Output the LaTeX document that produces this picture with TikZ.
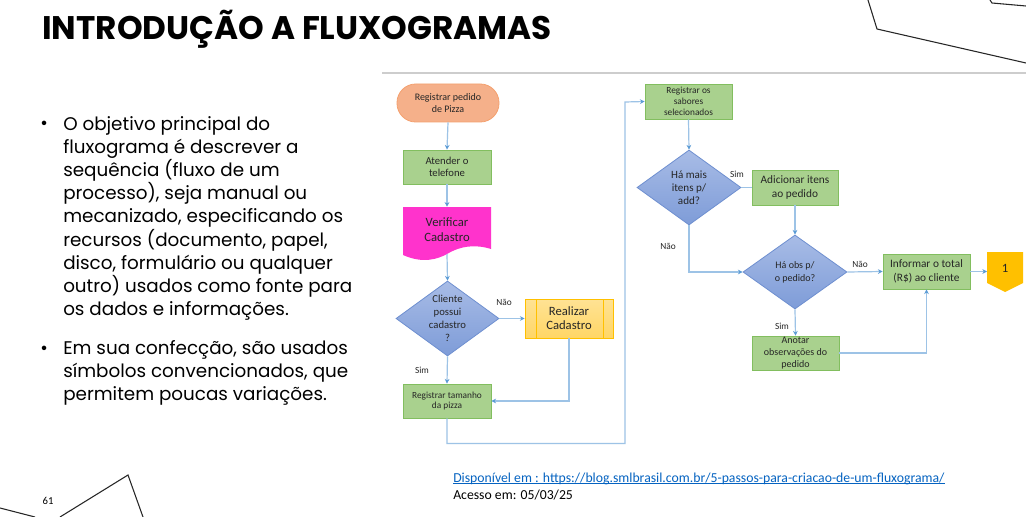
\documentclass[tikz,border=0pt]{standalone}
\usepackage{fontspec}
\setmainfont{Carlito}
\newfontfamily\poppins{Poppins}
\usetikzlibrary{shapes.geometric,arrows.meta}
\definecolor{lineblue}{RGB}{157,195,230}
\definecolor{tipblue}{RGB}{91,155,213}
\definecolor{greenF}{RGB}{169,209,142}
\definecolor{greenB}{RGB}{130,190,95}
\definecolor{orangeF}{RGB}{245,176,138}
\definecolor{orangeB}{RGB}{244,160,110}
\definecolor{magF}{RGB}{255,51,204}
\definecolor{yelF}{RGB}{255,214,102}
\definecolor{yelB}{RGB}{255,192,0}
\definecolor{goldF}{RGB}{255,192,0}
\definecolor{diaTop}{RGB}{168,188,230}
\definecolor{diaBot}{RGB}{126,156,216}
\definecolor{diaB}{RGB}{110,143,208}
\definecolor{txt}{RGB}{38,38,38}
\definecolor{linkblue}{RGB}{5,99,193}
\definecolor{grayline}{RGB}{205,205,205}
\begin{document}
\begin{tikzpicture}[x=0.75pt,y=-0.75pt,
  conn/.style={draw=lineblue,line width=0.9pt,-{Stealth[length=3.5pt,width=3.5pt,color=tipblue]}},
  plain/.style={draw=lineblue,line width=0.9pt},
  procbox/.style={rectangle,draw=greenB,fill=greenF,line width=0.6pt,inner sep=0pt,align=center,text=txt},
  diabox/.style={diamond,draw=diaB,top color=diaTop,bottom color=diaBot,line width=0.6pt,inner sep=0pt},
  lbl/.style={font=\fontsize{7}{8}\selectfont,text=txt,inner sep=0pt},
  deco/.style={draw=black!85,line width=0.8pt},
  bodytxt/.style={font=\poppins\fontsize{13.75}{17.4}\selectfont,align=left,inner sep=0pt,anchor=base west,text=black}
]
\useasboundingbox (0,0) rectangle (1026,517);
\fill[white] (0,0) rectangle (1026,517);

% decorations
\draw[deco] (868,0) -- (877,29) -- (1026,63);
\draw[deco] (990,0) -- (992,3) -- (1026,6);
\draw[deco] (0,508) -- (35,517);
\draw[deco] (60,517) -- (128,475) -- (143,517);
\draw[grayline,line width=0.8pt] (382,73) -- (1026,73);

% title
\node[anchor=base west,inner sep=0pt,font=\poppins\bfseries\fontsize{24.5}{28}\selectfont] (title) at (42,40) {INTRODUÇÃO A FLUXOGRAMAS};

% page number
\node[anchor=center,inner sep=0pt,font=\fontsize{8}{9}\selectfont] (pg) at (48,501) {61};

% bullets (base anchor = baseline of last line)
\node[bodytxt] (b1) at (40,130) {•};
\node[bodytxt] (t1) at (63,315.6) {O objetivo principal do\\fluxograma é descrever a\\sequência (fluxo de um\\processo), seja manual ou\\mecanizado, especificando os\\recursos (documento, papel,\\disco, formulário ou qualquer\\outro) usados como fonte para\\os dados e informações.};
\node[bodytxt] (b2) at (40,354) {•};
\node[bodytxt] (t2) at (63,400.4) {Em sua confecção, são usados\\símbolos convencionados, que\\permitem poucas variações.};

% source
\node[anchor=base west,inner sep=0pt,font=\fontsize{10.3}{12}\selectfont,text=linkblue] (src) at (453,482) {Disponível em : https://blog.smlbrasil.com.br/5-passos-para-criacao-de-um-fluxograma/};
\draw[linkblue,line width=0.5pt] ([yshift=-1.3pt]src.base west) -- ([yshift=-1.3pt]src.base east);
\node[anchor=base west,inner sep=0pt,font=\fontsize{10.3}{12}\selectfont,text=black] (acc) at (453,499) {Acesso em: 05/03/25};

% ---------- flowchart left column
\node[rectangle,rounded corners=14pt,draw=orangeB,fill=orangeF,line width=0.6pt,minimum width=76.5pt,minimum height=28.5pt,inner sep=0pt,align=center,text=txt,font=\fontsize{7.5}{9.5}\selectfont] (start) at (448,103) {Registrar pedido\\de Pizza};

\node[procbox,minimum width=66pt,minimum height=25.5pt,font=\fontsize{8}{9.5}\selectfont] (atender) at (447,167) {Atender o\\telefone};

% document shape
\fill[magF] (403,207) -- (491,207) -- (491,249) .. controls (475,244) and (460,246) .. (447,254) .. controls (438,259) and (423,264) .. (403,255) -- cycle;
\node[rectangle,minimum width=66pt,minimum height=34.5pt,inner sep=0pt,align=center,text=txt,font=\fontsize{9.5}{11}\selectfont] (verif) at (447,230) {Verificar\\Cadastro};
\coordinate (verifbot) at (447,254);

\node[diabox,minimum width=77.25pt,minimum height=56.25pt,
  label={[lbl,font=\fontsize{8}{9.75}\selectfont,align=center]center:Cliente\\possui\\cadastro\\?}] (cli) at (447.5,318.5) {};

\node[rectangle,draw=yelB,top color=yelF!70!white,bottom color=yelF,line width=0.6pt,minimum width=66pt,minimum height=29.25pt,inner sep=0pt,align=center,text=txt,font=\fontsize{9.5}{10.5}\selectfont] (real) at (569,318.5) {Realizar\\Cadastro};
\draw[draw=yelB,line width=0.6pt] (536,299) -- (536,338) (603,299) -- (603,338);

\node[procbox,minimum width=66pt,minimum height=25.5pt,font=\fontsize{7}{8}\selectfont] (tam) at (447,401) {Registrar tamanho\\da pizza};

\node[lbl] (nao1) at (504,302) {Não};
\node[lbl] (sim1) at (422,370) {Sim};

% ---------- right part
\node[procbox,minimum width=65.25pt,minimum height=26.25pt,font=\fontsize{7}{8.4}\selectfont] (sab) at (688.5,101.5) {Registrar os\\sabores\\selecionados};

\node[diabox,minimum width=78pt,minimum height=56.25pt,
  label={[lbl,font=\fontsize{8.3}{9.75}\selectfont,align=center]center:Há mais\\itens p/\\add?}] (mais) at (689,187.5) {};

\node[procbox,minimum width=64.5pt,minimum height=26.25pt,font=\fontsize{8.5}{10}\selectfont] (adic) at (795,187.5) {Adicionar itens\\ao pedido};

\node[diabox,minimum width=78pt,minimum height=55.5pt,
  label={[lbl,font=\fontsize{7.5}{9.5}\selectfont,align=center]center:Há obs p/\\o pedido?}] (obs) at (795,272) {};

\node[procbox,minimum width=65.25pt,minimum height=26.25pt,font=\fontsize{8.5}{10}\selectfont] (inf) at (926.5,271.5) {Informar o total\\(R\$) ao cliente};

\fill[goldF] (987,252) -- (1023,252) -- (1023,283) -- (1005,292) -- (987,283) -- cycle;
\node[inner sep=0pt,minimum width=27pt,minimum height=23pt,font=\fontsize{9.5}{10}\selectfont,text=txt] (one) at (1005,268) {1};
\coordinate (onewest) at (987,271.5);

\node[procbox,minimum width=65.25pt,minimum height=25.5pt,font=\fontsize{7.5}{9}\selectfont] (anot) at (795.5,353) {Anotar\\observações do\\pedido};

\node[lbl] (sim2) at (737,174) {Sim};
\node[lbl] (nao2) at (668,246) {Não};
\node[lbl] (nao3) at (860,264) {Não};
\node[lbl] (sim3) at (782,326) {Sim};

% connectors
\draw[conn] (start.south) -- (atender.north);
\draw[conn] (atender.south) -- (verif.north);
\draw[conn] (verifbot) -- (cli.north);
\draw[conn] (cli.east) -- (real.west);
\draw[conn] (cli.south) -- (tam.north);
\draw[conn] (real.south) |- (tam.east);
\draw[conn] (tam.south) -- ++(0,25) -| (625,102) -- (sab.west);
\draw[conn] (sab.south) -- (mais.north);
\draw[plain] (mais.east) -- (adic.west);
\draw[conn] (mais.south) |- (obs.west);
\draw[conn] (adic.south) -- (obs.north);
\draw[conn] (obs.east) -- (inf.west);
\draw[conn] (inf.east) -- (onewest);
\draw[conn] (obs.south) -- (anot.north);
\draw[conn] (anot.east) -| (inf.south);
\end{tikzpicture}
\end{document}
